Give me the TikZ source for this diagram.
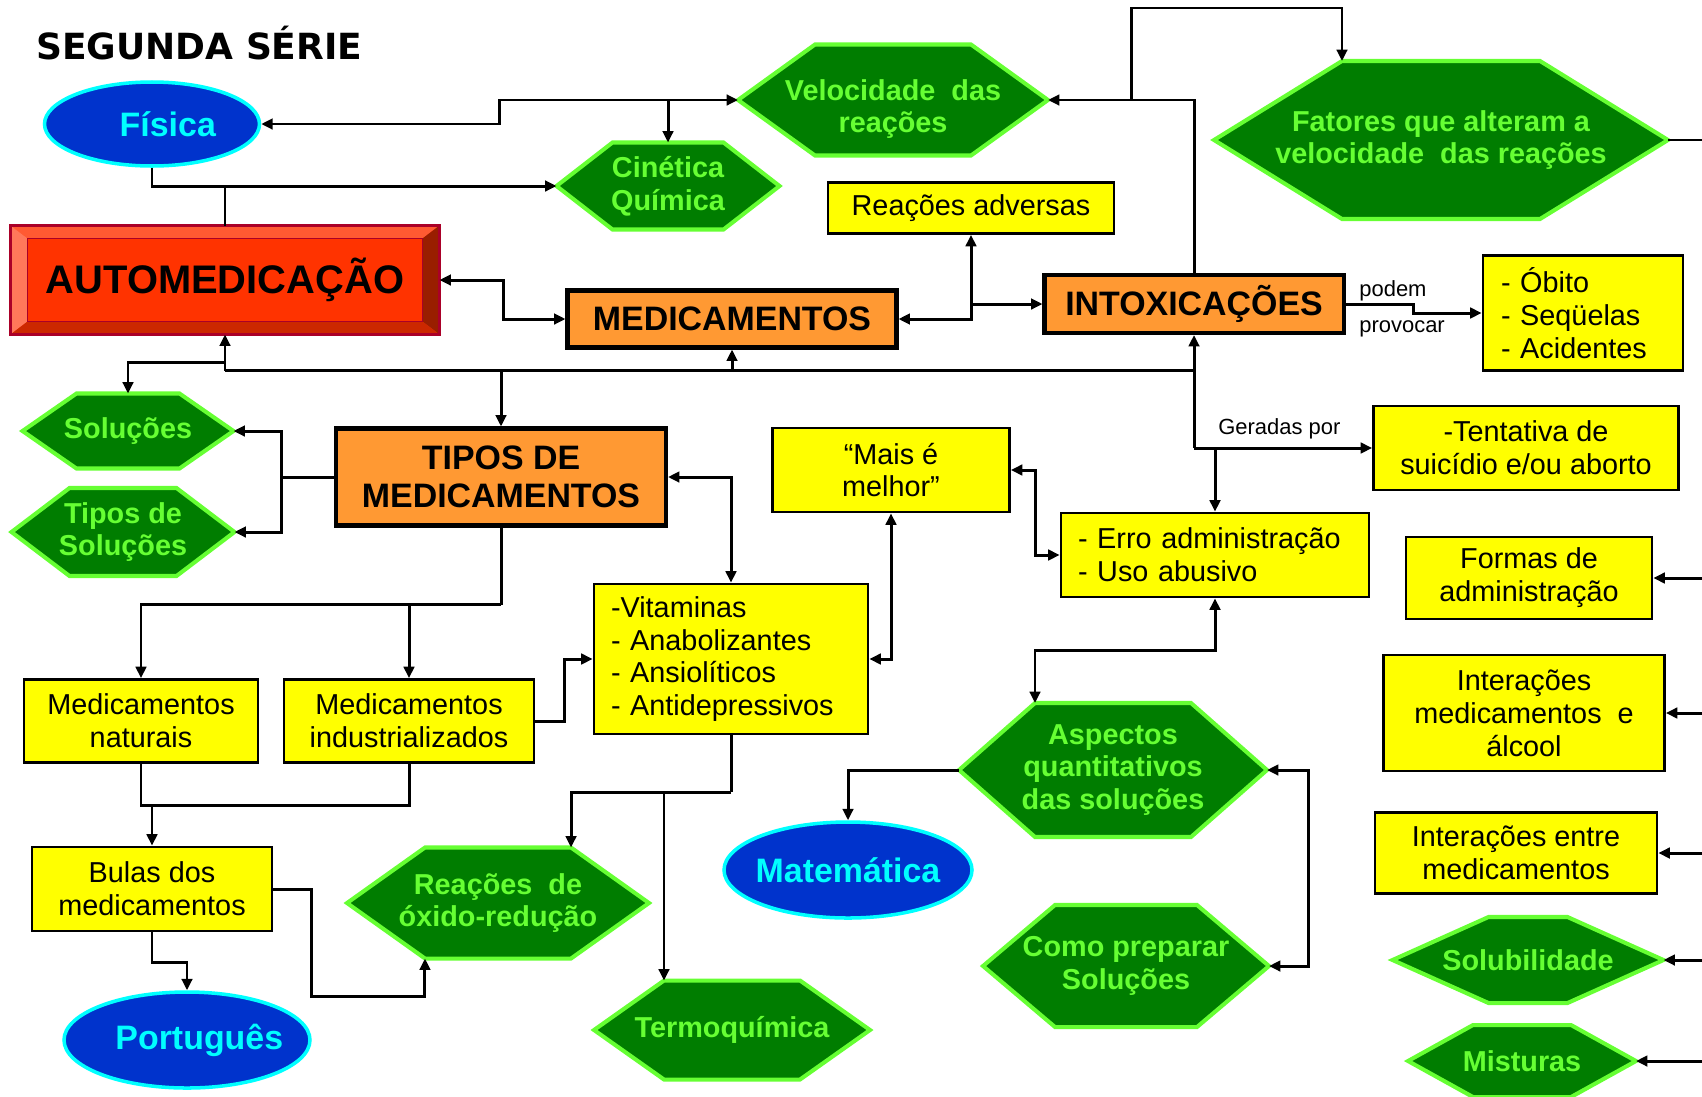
\documentclass[tikz,border=0pt]{standalone}
\usepackage{fontspec}
\setmainfont{Liberation Sans}
\newfontfamily\titlefont{DejaVu Sans}
\usepackage{tikz}
\usetikzlibrary{arrows.meta, shapes.geometric, backgrounds}
\definecolor{qGreen}{RGB}{0,125,0}
\definecolor{qLime}{RGB}{102,255,51}
\definecolor{qYellow}{RGB}{255,255,0}
\definecolor{qOrange}{RGB}{255,153,51}
\definecolor{qBlue}{RGB}{0,51,204}
\definecolor{qCyan}{RGB}{0,255,255}
\definecolor{qRed}{RGB}{255,51,0}
\definecolor{qRedLight}{RGB}{255,120,90}
\definecolor{qRedTop}{RGB}{255,90,50}
\definecolor{qRedDark}{RGB}{153,30,0}
\definecolor{qRedBottom}{RGB}{204,40,0}
\definecolor{qCrimson}{RGB}{170,0,40}

% hexagon: name, x, y, width, height, inset, text
\newcommand{\hexnode}[7]{%
  \node[hexa, boxsize={#4}{#5}] (#1) at (#2,#3) {#7};
  \begin{scope}[on background layer]
    \draw[hexline] (#1.west) -- ([xshift=#6*0.02cm]#1.north west) -- ([xshift=-#6*0.02cm]#1.north east)
      -- (#1.east) -- ([xshift=-#6*0.02cm]#1.south east) -- ([xshift=#6*0.02cm]#1.south west) -- cycle;
  \end{scope}}

\begin{document}
\begin{tikzpicture}[x=0.02cm, y=-0.02cm,
  boxsize/.style 2 args={minimum width=#1*0.02cm, minimum height=#2*0.02cm},
  wire/.style={line width=1.7pt},
  conn/.style={line width=1.7pt, -{Triangle[length=6.5pt,width=6pt]}},
  conn2/.style={line width=1.7pt, {Triangle[length=6.5pt,width=6pt]}-{Triangle[length=6.5pt,width=6pt]}},
  ybox/.style={draw, fill=qYellow, line width=1.6pt, align=center, inner sep=0pt, font=\fontsize{16.4}{18.7}\selectfont},
  obox/.style={draw, fill=qOrange, line width=2.3pt, align=center, inner sep=0pt, font=\bfseries\fontsize{19.3}{21.5}\selectfont},
  hexa/.style={align=center, inner sep=0pt, outer sep=0pt, text=qLime, font=\bfseries\fontsize{16.4}{18.6}\selectfont},
  hexline/.style={draw=qLime, fill=qGreen, line width=2.3pt},
  blob/.style={ellipse, draw=qCyan, fill=qBlue, line width=2pt, text=qCyan, inner sep=0pt, font=\bfseries\fontsize{19.3}{22}\selectfont},
  lbl/.style={font=\fontsize{12.5}{14}\selectfont, inner sep=0pt}]
  \useasboundingbox (0,0) rectangle (1702,1096);

  % title
  \node[anchor=west, font=\titlefont\bfseries\fontsize{20.5}{24}\selectfont] (title) at (30,43) {SEGUNDA SÉRIE};

  % ellipses
  \node[blob, boxsize={215}{84}] (fis) at (152,124) {\makebox[0pt]{\hspace{18pt}Física}};
  \node[blob, boxsize={248}{96}] (mat) at (848,870) {\makebox[0pt]{Matemática}};
  \node[blob, boxsize={246}{96}] (port) at (187,1040) {\makebox[0pt]{\hspace{14pt}Português}};

  % hexagons
  \hexnode{cin}{668}{186}{223}{87}{56}{Cinética\\Química}
  \hexnode{vel}{893}{100}{310}{111}{77}{\rule{0pt}{22pt}Velocidade\ \ das\\reações}
  \hexnode{fat}{1441}{140}{454}{158}{128}{Fatores que alteram a\\velocidade\ \ das reações}
  \hexnode{sol}{128}{431}{211}{75}{54}{Soluções}
  \hexnode{tsol}{123}{532}{223}{88}{58}{Tipos de\\Soluções}
  \hexnode{asp}{1113}{770}{308}{134}{76}{Aspectos\\quantitativos\\das soluções}
  \hexnode{oxi}{498}{903}{302}{111}{78}{Reações\ \ de\\óxido-redução}
  \hexnode{como}{1126}{966}{286}{122}{72}{Como preparar\\Soluções}
  \hexnode{termo}{732}{1030}{276}{99}{70}{Termoquímica}
  \hexnode{solub}{1528}{960}{271}{86}{96}{Solubilidade}
  \hexnode{mist}{1522}{1061}{228}{72}{65}{Misturas}

  % orange boxes
  \node[obox, boxsize={329}{57}] (med) at (732,319) {MEDICAMENTOS};
  \node[obox, boxsize={299}{58}] (intox) at (1194,304) {INTOXICAÇÕES};
  \node[obox, boxsize={330}{97}] (tipos) at (501,477) {TIPOS DE\\MEDICAMENTOS};

  % yellow boxes
  \node[ybox, boxsize={286}{51}] (adv) at (971,208) {Reações adversas};
  \node[ybox, boxsize={200}{115}, align=left, text width=3.28cm] (obito) at (1583,313) {- Óbito\\- Seqüelas\\- Acidentes};
  \node[ybox, boxsize={305}{84}] (tent) at (1526,448) {-Tentativa de\\suicídio e/ou aborto};
  \node[ybox, boxsize={237}{84}] (mais) at (891,470) {“Mais é\\melhor”};
  \node[ybox, boxsize={308}{84}, align=left, text width=5.48cm] (erro) at (1215,555) {- Erro administração\\- Uso abusivo};
  \node[ybox, boxsize={246}{82}] (formas) at (1529,578) {Formas de\\administração};
  \node[ybox, boxsize={274}{150}, align=left, text width=4.8cm] (vit) at (731,659) {-Vitaminas\\- Anabolizantes\\- Ansiolíticos\\- Antidepressivos};
  \node[ybox, boxsize={234}{83}] (nat) at (141,721) {Medicamentos\\naturais};
  \node[ybox, boxsize={250}{83}] (ind) at (409,721) {Medicamentos\\industrializados};
  \node[ybox, boxsize={281}{116}] (alc) at (1524,713) {Interações\\medicamentos\ \ e\\álcool};
  \node[ybox, boxsize={282}{81}] (entre) at (1516,853) {Interações entre\\medicamentos};
  \node[ybox, boxsize={240}{84}] (bulas) at (152,889) {Bulas dos\\medicamentos};

  % AUTOMEDICAÇÃO, bevelled
  \node[fill=qRed, outer sep=0pt, boxsize={429}{109}, font=\bfseries\fontsize{22.7}{26}\selectfont] (auto) at (225,280) {AUTOMEDICAÇÃO};
  \fill[qRedTop] (auto.north west) -- (auto.north east) -- ([shift={(-0.34cm,-0.26cm)}]auto.north east) -- ([shift={(0.34cm,-0.26cm)}]auto.north west) -- cycle;
  \fill[qRedLight] (auto.north west) -- ([shift={(0.34cm,-0.26cm)}]auto.north west) -- ([shift={(0.34cm,0.26cm)}]auto.south west) -- (auto.south west) -- cycle;
  \fill[qRedDark] (auto.north east) -- ([shift={(-0.34cm,-0.26cm)}]auto.north east) -- ([shift={(-0.34cm,0.26cm)}]auto.south east) -- (auto.south east) -- cycle;
  \fill[qRedBottom] (auto.south west) -- ([shift={(0.34cm,0.26cm)}]auto.south west) -- ([shift={(-0.34cm,0.26cm)}]auto.south east) -- (auto.south east) -- cycle;
  \draw[qCrimson, line width=0.8pt] ([shift={(0.34cm,-0.26cm)}]auto.north west) rectangle ([shift={(-0.34cm,0.26cm)}]auto.south east);
  \draw[qCrimson, line width=1.2pt] (auto.north west) rectangle (auto.south east);

  % edge labels
  \node[lbl, anchor=west] (podem) at (1359,291) {podem};
  \node[lbl, anchor=west] (provocar) at (1359,329) {provocar};
  \node[lbl, anchor=west] (geradas) at (1218,429) {Geradas por};

  % Física - Velocidade - Cinética
  \draw[conn2] (fis.east) -- ++(238,0) |- (vel.west);
  \draw[conn] (cin.north |- vel.west) -- (cin.north);
  \draw[conn] (fis.south) |- (cin.west);
  \draw[wire] (auto.north) -- (auto.north |- cin.west);

  % AUTOMEDICAÇÃO <-> MEDICAMENTOS
  \draw[conn2] (auto.east) -- ++(64,0) |- (med.west);

  % MEDICAMENTOS - Reações adversas - INTOXICAÇÕES
  \coordinate (aj) at (adv.south |- intox.west);
  \draw[conn] (aj) -- (adv.south);
  \draw[conn] (aj) -- (intox.west);
  \draw[conn] (aj) |- (med.east);

  % INTOXICAÇÕES -> Velocidade, Fatores
  \draw[conn] (intox.north) |- (vel.east);
  \path (intox.north |- vel.east) ++(-63,0) coordinate (fj);
  \draw[conn] (fj) -- ++(0,-92) -| ([xshift=2.56cm]fat.north west);

  % INTOXICAÇÕES -> Óbito
  \draw[conn] (intox.east) -- ++(68,0) |- (obito.west);

  % central bus
  \path (auto.south) ++(0,36) coordinate (busL);
  \path (auto.south) ++(0,28) coordinate (sj);
  \draw[wire] (busL) -- (intox.south |- busL);
  \draw[conn] (busL) -- (auto.south);
  \draw[conn] (med.south |- busL) -- (med.south);
  \draw[conn] (tipos.north |- busL) -- (tipos.north);
  \draw[conn] (sj) -| (sol.north);

  % INTOXICAÇÕES -> Tentativa, Erro
  \coordinate (gj) at (intox.south |- tent.west);
  \draw[conn] (gj) -- (intox.south);
  \draw[conn] (gj) -- (tent.west);
  \draw[conn] (erro.north |- gj) -- (erro.north);

  % TIPOS -> Soluções
  \path (tipos.west) ++(-52,0) coordinate (tj);
  \draw[wire] (tipos.west) -- (tj);
  \draw[conn] (tj) |- (sol.east);
  \draw[conn] (tj) |- (tsol.east);

  % TIPOS <-> Vitaminas
  \draw[conn2] (tipos.east) -| (vit.north);

  % TIPOS -> naturais, industrializados
  \path (tipos.south) ++(0,77) coordinate (tb);
  \draw[wire] (tipos.south) -- (tb);
  \draw[conn] (tb) -| (nat.north);
  \draw[conn] (ind.north |- tb) -- (ind.north);

  % industrializados -> Vitaminas
  \draw[conn] (ind.east) -- ++(29,0) |- (vit.west);

  % Vitaminas <-> Mais é melhor <-> Erro
  \draw[conn2] (vit.east) -| (mais.south);
  \draw[conn2] (mais.east) -- ++(25,0) |- (erro.west);

  % Erro <-> Aspectos
  \draw[conn2] (erro.south) -- ++(0,52) -| ([xshift=1.52cm]asp.north west);

  % Aspectos -> Matemática, Como preparar
  \draw[conn] (asp.west) -| (mat.north);
  \draw[conn2] (asp.east) -- ++(41,0) |- (como.east);

  % Vitaminas -> óxido-redução, Termoquímica
  \path (vit.south) ++(0,57) coordinate (vb);
  \draw[wire] (vit.south) -- (vb);
  \draw[conn] (vb) -| ([xshift=-1.56cm]oxi.north east);
  \coordinate (tt) at ([xshift=1.4cm]termo.north west);
  \draw[conn] (tt |- vb) -- (tt);

  % naturais, industrializados -> Bulas
  \path (nat.south) ++(0,42) coordinate (nb);
  \draw[wire] (nat.south) -- (nb) -| (ind.south);
  \draw[conn] (bulas.north |- nb) -- (bulas.north);

  % Bulas -> Português, óxido-redução
  \draw[conn] (bulas.south) -- ++(0,30) -| (port.north);
  \draw[conn] (bulas.east) -- ++(38,0) -- ++(0,107) -| ([xshift=1.56cm]oxi.south west);

  % lines from the right edge
  \coordinate (edge) at (1702,0);
  \draw[wire] (fat.east) -- (fat.east -| edge);
  \foreach \n in {formas, alc, entre, solub, mist}
    \draw[conn] (\n.east -| edge) -- (\n.east);
\end{tikzpicture}
\end{document}
